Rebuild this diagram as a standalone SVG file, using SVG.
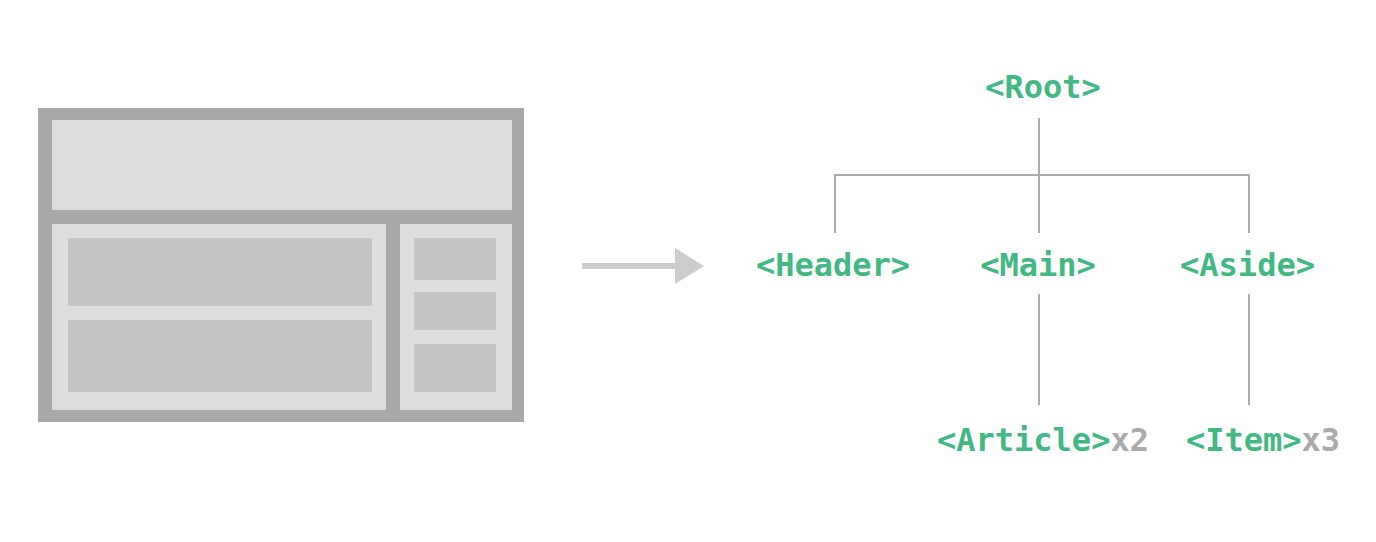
<svg xmlns="http://www.w3.org/2000/svg" width="1376" height="542" viewBox="0 0 1376 542">
  <style>
    .frame { fill: #a9a9a9; }
    .panel { fill: #dddddd; }
    .block { fill: #c4c4c4; }
    .link { stroke: #aaaaaa; stroke-width: 2; fill: none; }
    .tag { font-family: "DejaVu Sans Mono", "Liberation Mono", monospace; font-weight: bold; font-size: 32px; fill: #42b883; }
    .count { fill: #aaaaaa; }
  </style>
  <rect width="1376" height="542" fill="#ffffff"/>

  <g id="layout">
    <rect class="frame" x="38" y="108" width="486" height="314"/>
    <rect class="panel" x="52" y="120" width="460" height="90"/>
    <rect class="panel" x="52" y="224" width="334" height="186"/>
    <rect class="panel" x="400" y="224" width="112" height="186"/>
    <rect class="block" x="68" y="238" width="304" height="68"/>
    <rect class="block" x="68" y="320" width="304" height="72"/>
    <rect class="block" x="414" y="238" width="82" height="42"/>
    <rect class="block" x="414" y="292" width="82" height="38"/>
    <rect class="block" x="414" y="344" width="82" height="48"/>
  </g>

  <g id="arrow">
    <rect x="582" y="263" width="94" height="6" fill="#cccccc"/>
    <polygon points="675,248 704,266 675,284" fill="#cccccc"/>
  </g>

  <g id="connectors">
    <line class="link" x1="1039" y1="118" x2="1039" y2="233"/>
    <polyline class="link" points="835,233 835,175 1249,175 1249,233"/>
    <line class="link" x1="1039" y1="294" x2="1039" y2="405"/>
    <line class="link" x1="1249" y1="294" x2="1249" y2="405"/>
  </g>

  <g id="root"><text class="tag" x="1043" y="98" text-anchor="middle">&lt;Root&gt;</text></g>
  <g id="header"><text class="tag" x="833" y="276" text-anchor="middle">&lt;Header&gt;</text></g>
  <g id="main"><text class="tag" x="1038" y="276" text-anchor="middle">&lt;Main&gt;</text></g>
  <g id="aside"><text class="tag" x="1247.5" y="276" text-anchor="middle">&lt;Aside&gt;</text></g>
  <g id="article"><text class="tag" x="937" y="451">&lt;Article&gt;<tspan class="count">x2</tspan></text></g>
  <g id="item"><text class="tag" x="1186" y="451">&lt;Item&gt;<tspan class="count">x3</tspan></text></g>
</svg>
